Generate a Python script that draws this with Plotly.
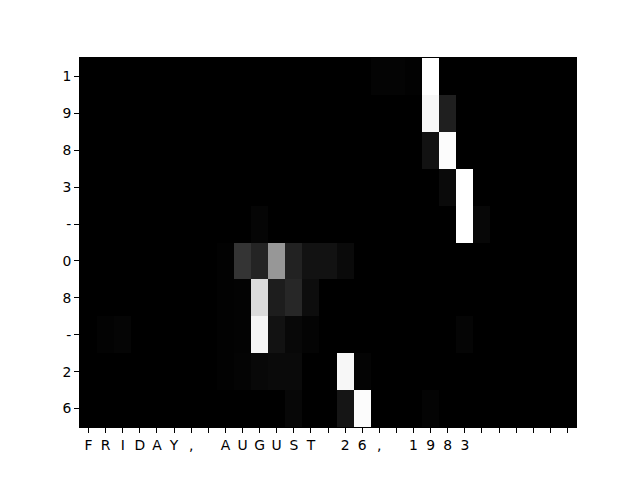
import plotly.graph_objects as go

# Output characters (rows) and input characters (columns)
row_labels = ["1", "9", "8", "3", "-", "0", "8", "-", "2", "6"]
col_labels = list("FRIDAY, AUGUST 26, 1983") + [""] * 6

# Attention weights (rows x columns)
attention = [
    [0, 0, 0, 0, 0, 0, 0, 0, 0, 0, 0, 0, 0, 0, 0, 0, 0, 0.015, 0.015, 0.008, 0.98, 0, 0, 0, 0, 0, 0, 0, 0],
    [0, 0, 0, 0, 0, 0, 0, 0, 0, 0, 0, 0, 0, 0, 0, 0, 0, 0, 0, 0, 0.95, 0.12, 0, 0, 0, 0, 0, 0, 0],
    [0, 0, 0, 0, 0, 0, 0, 0, 0, 0, 0, 0, 0, 0, 0, 0, 0, 0, 0, 0, 0.07, 0.97, 0, 0, 0, 0, 0, 0, 0],
    [0, 0, 0, 0, 0, 0, 0, 0, 0, 0, 0, 0, 0, 0, 0, 0, 0, 0, 0, 0, 0, 0.04, 0.98, 0, 0, 0, 0, 0, 0],
    [0, 0, 0, 0, 0, 0, 0, 0, 0, 0, 0.02, 0, 0, 0, 0, 0, 0, 0, 0, 0, 0, 0, 0.98, 0.025, 0, 0, 0, 0, 0],
    [0, 0, 0, 0, 0, 0, 0, 0, 0.008, 0.20, 0.14, 0.58, 0.13, 0.07, 0.07, 0.04, 0, 0, 0, 0, 0, 0, 0, 0, 0, 0, 0, 0, 0],
    [0, 0, 0, 0, 0, 0, 0, 0, 0.008, 0.01, 0.84, 0.11, 0.15, 0.05, 0, 0, 0, 0, 0, 0, 0, 0, 0, 0, 0, 0, 0, 0, 0],
    [0, 0.012, 0.02, 0, 0, 0, 0, 0, 0.008, 0.01, 0.94, 0.07, 0.03, 0.015, 0, 0, 0, 0, 0, 0, 0, 0, 0.02, 0, 0, 0, 0, 0, 0],
    [0, 0, 0, 0, 0, 0, 0, 0, 0.008, 0.015, 0.03, 0.04, 0.04, 0, 0, 0.95, 0.015, 0, 0, 0, 0, 0, 0, 0, 0, 0, 0, 0, 0],
    [0, 0, 0, 0, 0, 0, 0, 0, 0, 0, 0, 0, 0.025, 0, 0, 0.08, 0.97, 0, 0, 0, 0.015, 0, 0, 0, 0, 0, 0, 0, 0],
]

xs = list(range(len(col_labels)))
ys = list(range(len(row_labels)))

fig = go.Figure(
    go.Heatmap(
        z=attention,
        x=xs,
        y=ys,
        colorscale=[[0, "#000000"], [1, "#ffffff"]],
        zmin=0,
        zmax=0.98,
        showscale=False,
    )
)

font = dict(family="DejaVu Sans", size=13.9, color="black")
fig.update_layout(
    width=640,
    height=480,
    margin=dict(l=72, r=72, t=50, b=61),
    paper_bgcolor="white",
    plot_bgcolor="white",
    font=font,
)
fig.update_xaxes(
    tickmode="array",
    tickvals=xs,
    ticktext=col_labels,
    ticks="outside",
    ticklen=5,
    tickcolor="black",
    showgrid=False,
    zeroline=False,
    showline=True,
    linecolor="black",
    mirror=True,
    range=[-0.5, len(col_labels) - 0.5],
    tickfont=font,
)
fig.update_yaxes(
    tickmode="array",
    tickvals=ys,
    ticktext=row_labels,
    ticks="outside",
    ticklen=5,
    tickcolor="black",
    showgrid=False,
    zeroline=False,
    showline=True,
    linecolor="black",
    mirror=True,
    range=[len(row_labels) - 0.5, -0.5],
    tickfont=font,
)

fig.write_html("out.html")
